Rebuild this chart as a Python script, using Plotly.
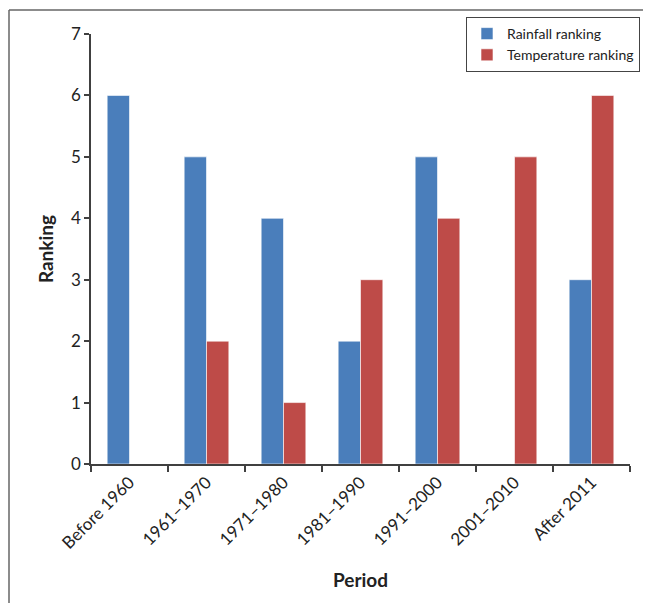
import plotly.graph_objects as go

periods = ["Before 1960", "1961–1970", "1971–1980", "1981–1990", "1991–2000", "2001–2010", "After 2011"]
rainfall = [6, 5, 4, 2, 5, 0, 3]
temperature = [0, 2, 1, 3, 4, 5, 6]

OFF = 8  # default page body margin
W, H = 651 - OFF, 603 - OFF
L, R, T = 91 - OFF, 21, 34 - OFF
B = H - T - 430
pw, ph = W - L - R, H - T - B

font = "Lato"
axis_col = "#404040"

fig = go.Figure()
fig.add_trace(go.Bar(x=periods, y=rainfall, name="Rainfall ranking",
                     marker=dict(color="#4a7ebb", line=dict(color="rgba(255,255,255,0.6)", width=1))))
fig.add_trace(go.Bar(x=periods, y=temperature, name="Temperature ranking",
                     marker=dict(color="#be4b48", line=dict(color="rgba(255,255,255,0.6)", width=1))))

fig.update_layout(
    width=W, height=H,
    margin=dict(l=L, r=R, t=T, b=B, autoexpand=False),
    paper_bgcolor="white", plot_bgcolor="white",
    barmode="group", bargap=0.42, bargroupgap=0,
    font=dict(family=font, size=16, color="#222222"),
    legend=dict(x=(466 - OFF - L) / pw, y=1 + (T - (17 - OFF)) / ph, xanchor="left", yanchor="top",
                bordercolor="#444444", borderwidth=1, bgcolor="white",
                font=dict(size=14), tracegroupgap=0, itemwidth=30),
    xaxis=dict(range=[-0.5, 6.5], showline=True, linecolor=axis_col, linewidth=1.5,
               ticks="outside", tickson="boundaries", ticklen=6, tickcolor=axis_col, tickwidth=1.5,
               tickangle=-45, showgrid=False, tickfont=dict(size=17),
               title=dict(text="<b>Period</b>", font=dict(size=19), standoff=22)),
    yaxis=dict(range=[0, 7], dtick=1, showline=True, linecolor=axis_col, linewidth=1.5,
               ticks="outside", ticklen=5, tickcolor=axis_col, tickwidth=1.5,
               showgrid=False, zeroline=False, tickfont=dict(size=17),
               title=dict(text="<b>Ranking</b>", font=dict(size=19), standoff=12)),
)

# outer frame (top and left edges)
fx = (9 - OFF - L) / pw
fy = 1 + (T - (10 - OFF)) / ph
fig.add_shape(type="line", xref="paper", yref="paper", x0=fx, x1=1 + R / pw + 0.01, y0=fy, y1=fy,
              line=dict(color="#666666", width=1.5))
fig.add_shape(type="line", xref="paper", yref="paper", x0=fx, x1=fx, y0=fy, y1=-B / ph - 0.01,
              line=dict(color="#666666", width=1.5))

fig.write_html("out.html")
